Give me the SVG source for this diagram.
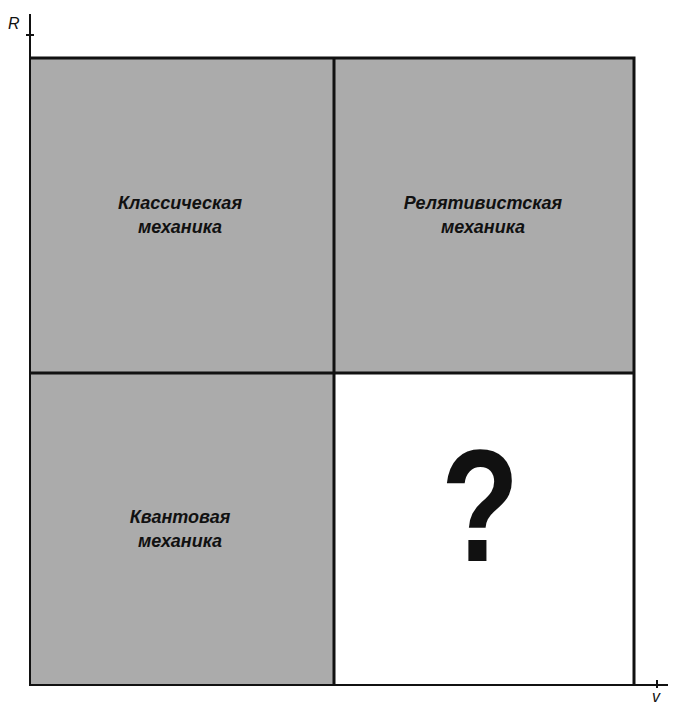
<svg xmlns="http://www.w3.org/2000/svg" width="675" height="710" viewBox="0 0 675 710">
<style>
.cell{fill:#ababab;stroke:none}
.ln{stroke:#111;stroke-width:3;fill:none}
.ax{stroke:#111;stroke-width:2;fill:none}
.lbl{font-family:"Liberation Sans",Arial,sans-serif;font-weight:bold;font-style:italic;font-size:18px;fill:#111;text-anchor:middle}
.axl{font-family:"Liberation Sans",Arial,sans-serif;font-style:italic;font-size:16px;fill:#111}
</style>
<rect width="675" height="710" fill="#fff"/>
<g id="classical">
<rect class="cell" x="30" y="58" width="304" height="315"/>
<text class="lbl" x="180" y="209">Классическая</text>
<text class="lbl" x="180" y="233">механика</text>
</g>
<g id="relativistic">
<rect class="cell" x="334" y="58" width="300" height="315"/>
<text class="lbl" x="483" y="209">Релятивистская</text>
<text class="lbl" x="483" y="233">механика</text>
</g>
<g id="quantum">
<rect class="cell" x="30" y="373" width="304" height="312"/>
<text class="lbl" x="180" y="523">Квантовая</text>
<text class="lbl" x="180" y="547">механика</text>
</g>
<g id="unknown">
<rect x="334" y="373" width="300" height="312" fill="#fff"/>
<text transform="translate(480 561) scale(0.8 1)" x="0" y="0" font-family="Liberation Sans,Arial,sans-serif" font-weight="bold" font-size="160" fill="#111" text-anchor="middle">?</text>
</g>
<g id="connectors">
<path class="ln" d="M30 58H634V685M334 58V685M30 373H634"/>
<path class="ax" d="M30 14V685H668"/>
<path class="ax" d="M26 35H34M657 680V688" stroke-width="1.5"/>
</g>
<g id="axes-labels">
<text class="axl" x="8" y="29">R</text>
<text class="axl" x="652" y="702">v</text>
</g>
</svg>
